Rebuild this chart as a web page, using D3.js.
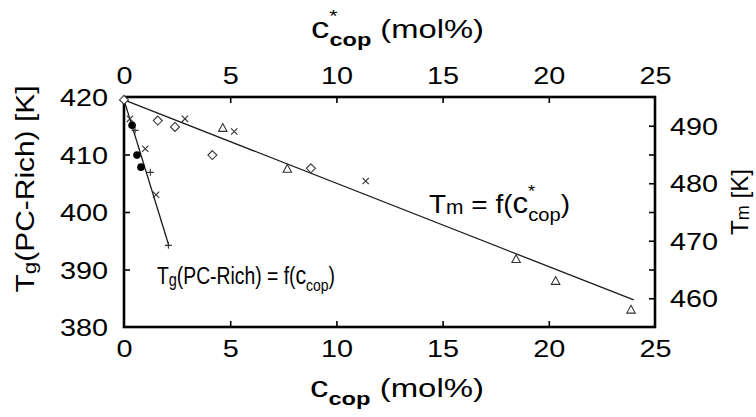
<!DOCTYPE html>
<html>
<head>
<meta charset="utf-8">
<script src="https://cdn.jsdelivr.net/npm/d3@7"></script>
<style>
  body { margin: 0; background: #fff; }
  svg { display: block; }
  text { font-family: "Liberation Sans", Arial, Helvetica, sans-serif; fill: #000; }
</style>
</head>
<body>
<svg id="chart" width="756" height="417"></svg>
<script>
// ---- axis ticks ----
const xTickValues = [0, 5, 10, 15, 20, 25];
const tgTickValues = [380, 390, 400, 410, 420];
const tmTickMarks = [460, 465, 470, 475, 480, 485, 490];
const tmTickLabels = [460, 470, 480, 490];

// ---- melting point series: c*_cop (mol%) vs Tm (K) ----
const tmDiamondC = [0, 1.59, 2.40, 4.16, 8.80];
const tmDiamondT = [494.5, 490.9, 489.8, 484.9, 482.6];
const tmTriangleC = [4.65, 7.69, 18.46, 20.32, 23.87];
const tmTriangleT = [489.6, 482.5, 466.8, 463.0, 458.0];
const tmCrossC = [2.87, 5.19, 11.38];
const tmCrossT = [491.2, 489.0, 480.4];
const tmFitC = [0, 24];
const tmFitT = [494.5, 459.7];

// ---- glass transition series: c_cop (mol%) vs Tg of PC-rich phase (K) ----
const tgCircleC = [0.38, 0.61, 0.80];
const tgCircleT = [415.1, 409.9, 407.8];
const tgCrossC = [0.28, 1.00, 1.51];
const tgCrossT = [416.2, 411.0, 403.0];
const tgPlusC = [0.52, 1.24, 2.09];
const tgPlusT = [414.2, 406.9, 394.2];
const tgFitC = [0, 2.1];
const tgFitT = [419.5, 394.3];

const zip = (a, b) => a.map((v, i) => [v, b[i]]);

const svg = d3.select("#chart");
const box = { l: 124, r: 655, t: 97, b: 327 };

const xBottom = d3.scaleLinear().domain([0, 25]).range([box.l, box.r]);
const xTop = d3.scaleLinear().domain([0, 25]).range([box.l, box.r]);
const yTg = d3.scaleLinear().domain([380, 420]).range([box.b, box.t]);
const yTm = d3.scaleLinear().domain([455, 495]).range([box.b, box.t]);

const TICK_FONT = 24, TICK_SX = 1.2;

function styleAxis(g) {
  g.attr("font-size", null).attr("font-family", null);
  g.select(".domain").remove();
  g.selectAll(".tick line").attr("stroke", "#000").attr("stroke-width", 1.6);
  g.selectAll(".tick text")
    .style("font-size", TICK_FONT + "px")
    .attr("fill", "#000")
    .each(function () {
      const t = d3.select(this);
      const xv = +(t.attr("x") || 0);
      t.attr("x", xv / TICK_SX).attr("transform", `scale(${TICK_SX},1)`);
    });
}

// left axis: Tg
const gLeft = svg.append("g").attr("transform", `translate(${box.l},0)`)
  .call(d3.axisLeft(yTg).tickValues(tgTickValues).tickSizeInner(-6).tickSizeOuter(0).tickPadding(16).tickFormat(d3.format("d")));
styleAxis(gLeft);
gLeft.selectAll(".tick text").attr("dy", "0.36em");

// right axis: Tm
const gRight = svg.append("g").attr("transform", `translate(${box.r},0)`)
  .call(d3.axisRight(yTm).tickValues(tmTickMarks).tickSizeInner(-6).tickSizeOuter(0).tickPadding(15)
    .tickFormat(d => tmTickLabels.includes(d) ? d3.format("d")(d) : ""));
styleAxis(gRight);
gRight.selectAll(".tick text").attr("dy", "0.36em");

// bottom axis: c_cop
const gBottom = svg.append("g").attr("transform", `translate(0,${box.b})`)
  .call(d3.axisBottom(xBottom).tickValues(xTickValues).tickSizeInner(-6).tickSizeOuter(0).tickPadding(30).tickFormat(d3.format("d")));
styleAxis(gBottom);
gBottom.selectAll(".tick text").attr("dy", "0");

// top axis: c*_cop
const gTop = svg.append("g").attr("transform", `translate(0,${box.t})`)
  .call(d3.axisTop(xTop).tickValues(xTickValues).tickSizeInner(-6).tickSizeOuter(0).tickPadding(13).tickFormat(d3.format("d")));
styleAxis(gTop);
gTop.selectAll(".tick text").attr("dy", "0");

// tick marks on the frame corners are covered by the frame itself
[gLeft, gRight].forEach(g => g.selectAll(".tick line").filter(d => d === 380 || d === 420 || d === 455 || d === 495).remove());
[gTop, gBottom].forEach(g => g.selectAll(".tick line").filter(d => d === 0 || d === 25).remove());

// frame
svg.append("rect")
  .attr("x", box.l).attr("y", box.t)
  .attr("width", box.r - box.l).attr("height", box.b - box.t)
  .attr("fill", "none").attr("stroke", "#000").attr("stroke-width", 2.6);

// fit lines
const tmLine = d3.line().x(d => xTop(d[0])).y(d => yTm(d[1]));
const tgLine = d3.line().x(d => xBottom(d[0])).y(d => yTg(d[1]));
svg.append("path").attr("d", tmLine(zip(tmFitC, tmFitT)))
  .attr("fill", "none").attr("stroke", "#1a1a1a").attr("stroke-width", 1.3);
svg.append("path").attr("d", tgLine(zip(tgFitC, tgFitT)))
  .attr("fill", "none").attr("stroke", "#1a1a1a").attr("stroke-width", 1.3);

// marker shapes
const crossSym = { draw(ctx, size) { const r = Math.sqrt(size); ctx.moveTo(-r, -r); ctx.lineTo(r, r); ctx.moveTo(-r, r); ctx.lineTo(r, -r); } };
const plusSym = { draw(ctx, size) { const r = Math.sqrt(size); ctx.moveTo(-r, 0); ctx.lineTo(r, 0); ctx.moveTo(0, -r); ctx.lineTo(0, r); } };
const diamondSym = { draw(ctx, size) { const r = Math.sqrt(size); ctx.moveTo(0, -r); ctx.lineTo(r, 0); ctx.lineTo(0, r); ctx.lineTo(-r, 0); ctx.closePath(); } };
const triSym = { draw(ctx, size) { const r = Math.sqrt(size); ctx.moveTo(0, -r); ctx.lineTo(r * 0.95, r * 0.75); ctx.lineTo(-r * 0.95, r * 0.75); ctx.closePath(); } };

function markers(data, xs, ys, type, size, filled) {
  svg.append("g").selectAll("path").data(data).join("path")
    .attr("transform", d => `translate(${xs(d[0])},${ys(d[1])})`)
    .attr("d", d3.symbol().type(type).size(size))
    .attr("fill", filled ? "#000" : "#fff")
    .attr("stroke", filled ? "none" : "#333")
    .attr("stroke-width", 1.1);
}

markers(zip(tmDiamondC, tmDiamondT), xTop, yTm, diamondSym, 20, false);
markers(zip(tmTriangleC, tmTriangleT), xTop, yTm, triSym, 20, false);
markers(zip(tmCrossC, tmCrossT), xTop, yTm, crossSym, 10, false);
markers(zip(tgCrossC, tgCrossT), xBottom, yTg, crossSym, 10, false);
markers(zip(tgPlusC, tgPlusT), xBottom, yTg, plusSym, 12, false);
svg.append("g").selectAll("circle").data(zip(tgCircleC, tgCircleT)).join("circle")
  .attr("cx", d => xBottom(d[0])).attr("cy", d => yTg(d[1])).attr("r", 3.8).attr("fill", "#000");

// ---- text labels with sub/superscripts ----
// each part: t = text, k = size factor, dy/dx in units of the base size, w = weight
function richText({ x, y, size, width, anchor = "start", rotate = 0, parts }) {
  const t = svg.append("text").attr("text-anchor", anchor).style("font-size", size + "px");
  parts.forEach(p => {
    const s = t.append("tspan").text(p.t).style("font-size", (size * (p.k || 1)) + "px");
    if (p.dy) s.attr("dy", (p.dy * size) + "px");
    if (p.dx) s.attr("dx", (p.dx * size) + "px");
    if (p.w) s.style("font-weight", p.w);
  });
  const natural = t.node().getBBox().width;
  const sx = width ? width / natural : 1;
  t.attr("transform", `translate(${x},${y}) rotate(${rotate}) scale(${sx},1)`);
  return t;
}

// c with stacked * and "cop" index
const cStar = (w) => [
  { t: "c", k: 1.12 },
  { t: "*", k: 0.65, dy: -0.6 },
  { t: "cop", k: 0.72, dy: 0.9, dx: -0.25, w }
];

// top axis title
richText({ x: 311, y: 38, size: 26, width: 173, parts: [
  ...cStar("bold"), { t: " (mol%)", dy: -0.3 }
]});
// bottom axis title
richText({ x: 310, y: 397, size: 26, width: 174, parts: [
  { t: "c", k: 1.12 }, { t: "cop", k: 0.72, dy: 0.3, w: "bold" }, { t: " (mol%)", dy: -0.3 }
]});
// left axis title
richText({ x: 34, y: 189, size: 25, width: 207, anchor: "middle", rotate: -90, parts: [
  { t: "T" }, { t: "g", k: 0.75, dy: 0.08 }, { t: "(PC-Rich) [K]", dy: -0.08 }
]});
// right axis title
richText({ x: 748, y: 202, size: 24, width: 66, anchor: "middle", rotate: -90, parts: [
  { t: "T" }, { t: "m", k: 0.75, dy: 0.05 }, { t: " [K]", dy: -0.05 }
]});
// curve annotations
richText({ x: 429, y: 213, size: 26, width: 141, parts: [
  { t: "T" }, { t: "m", k: 0.75, dy: 0.03 }, { t: " = f(", dy: -0.03 }, ...cStar(null), { t: ")", dy: -0.3 }
]});
richText({ x: 157, y: 284, size: 23.5, width: 178, parts: [
  { t: "T" }, { t: "g", k: 0.75, dy: 0.08 }, { t: "(PC-Rich) = f(", dy: -0.08 }, { t: "c", k: 1.1 },
  { t: "cop", k: 0.72, dy: 0.3 }, { t: ")", dy: -0.3 }
]});
</script>
</body>
</html>
